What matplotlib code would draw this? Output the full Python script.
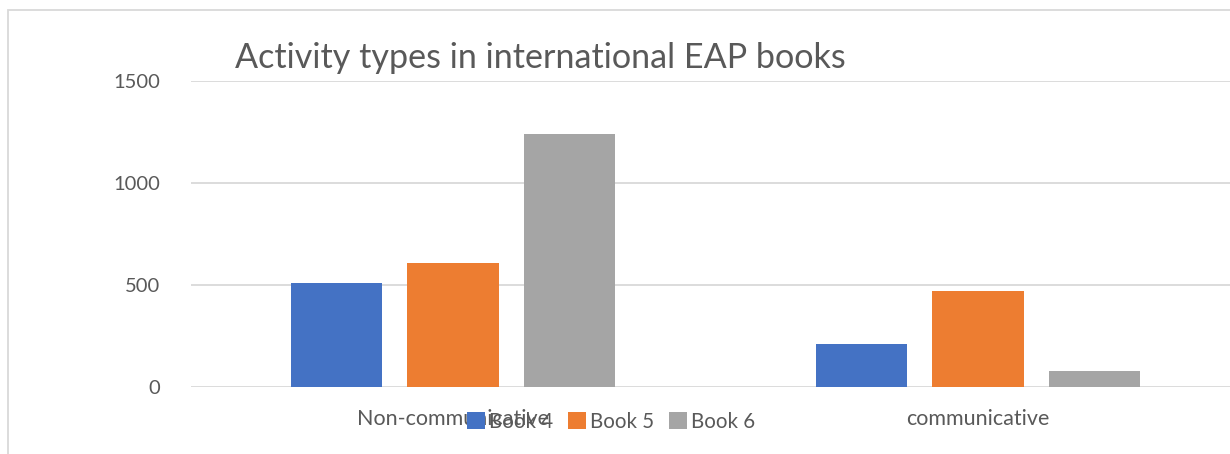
import numpy as np
import matplotlib
matplotlib.use('Agg')
import matplotlib.pyplot as plt
from matplotlib.patches import Rectangle

plt.rcParams['font.family'] = ['Lato', 'DejaVu Sans']

# data
categories = ['Non-communicative', 'communicative']
series = ['Book 4', 'Book 5', 'Book 6']
book4 = [508, 210]
book5 = [605, 470]
book6 = [1240, 74]
colors = ['#4472C4', '#ED7D31', '#A5A5A5']
yticks = [0, 500, 1000, 1500]

txt = '#595959'
fig = plt.figure(figsize=(12.3, 4.54), dpi=100)
ax = fig.add_axes([190.5 / 1230, 67.5 / 454, 1050 / 1230, 305.2 / 454])

x = np.arange(len(categories))
step, w = 0.222, 0.175
for i, (vals, name) in enumerate(zip([book4, book5, book6], series)):
    ax.bar(x + (i - 1) * step, vals, w, color=colors[i], label=name, zorder=3)

ax.set_xlim(-0.5, 1.5)
ax.set_ylim(0, 1500)
ax.set_yticks(yticks)
ax.set_xticks(x, categories)
ax.yaxis.grid(True, color='#d9d9d9', linewidth=1.3, zorder=0)
for s in ax.spines.values():
    s.set_visible(False)
ax.tick_params(axis='both', length=0, colors=txt)
ax.tick_params(axis='y', pad=22, labelsize=14.5)
ax.tick_params(axis='x', pad=16, labelsize=15.5)

fig.text(235 / 1230, 1 - 58 / 454, 'Activity types in international EAP books',
         fontsize=24.6, color=txt, va='center', ha='left')

fig.legend(loc='center', bbox_to_anchor=(611 / 1230, 1 - 422 / 454), ncol=3,
           frameon=False, fontsize=14.8, labelcolor=txt, handlelength=0.9,
           handleheight=0.9, handletextpad=0.2, columnspacing=0.7)

# outer chart border
fig.patches.append(Rectangle((8 / 1230, -0.05), 1.2, 1 - 10 / 454 + 0.05,
                             transform=fig.transFigure, fill=False,
                             edgecolor='#d9d9d9', linewidth=1.3))

fig.savefig('out.png', dpi=100)
